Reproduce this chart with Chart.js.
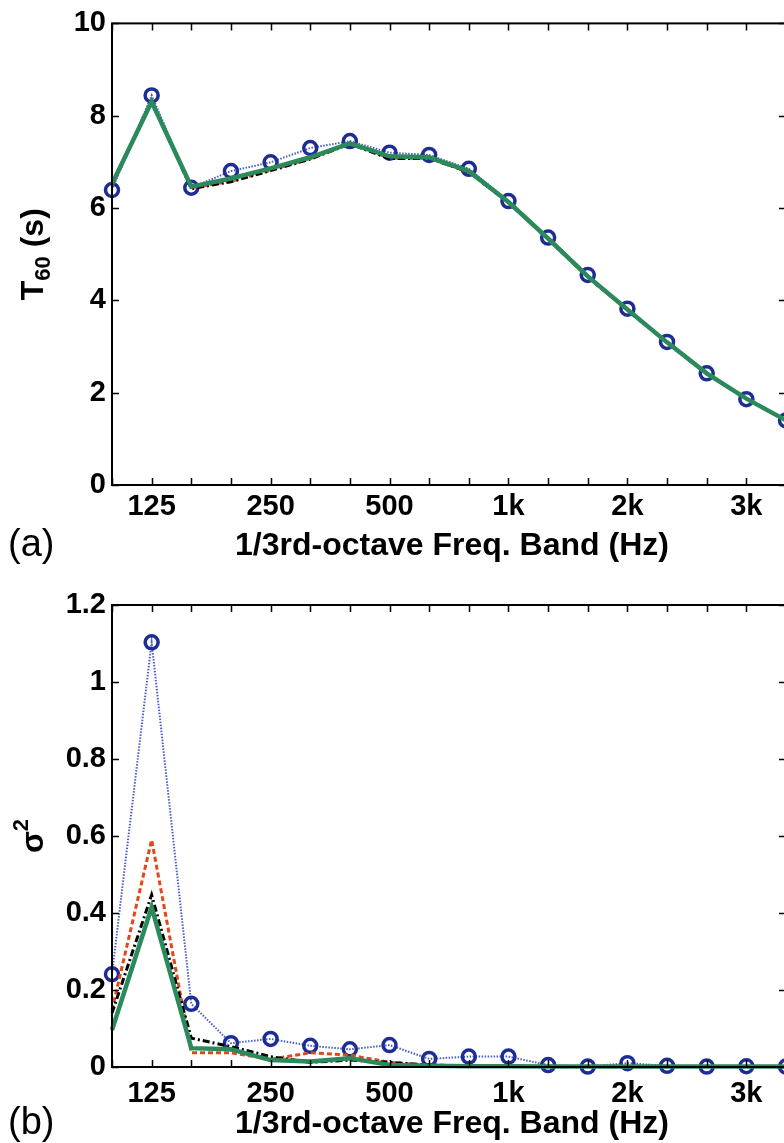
<!DOCTYPE html>
<html>
<head>
<meta charset="utf-8">
<script src="https://cdn.jsdelivr.net/npm/chart.js@4.4.1/dist/chart.umd.min.js"></script>
<style>
  html, body { margin: 0; padding: 0; background: #fff; overflow: hidden; }
  #wrap { position: relative; width: 800px; height: 1143px; overflow: hidden; }
  #c1 { position: absolute; left: 0; top: 0; width: 788px; height: 570px; }
  #c2 { position: absolute; left: 0; top: 570px; width: 788px; height: 573px; }
</style>
</head>
<body>
<div id="wrap">
  <canvas id="c1" width="788" height="570"></canvas>
  <canvas id="c2" width="788" height="573"></canvas>
</div>
<script>
// 1/3rd-octave bands (x categories) and the labels shown under the axis
const bands = ['100','125','160','200','250','315','400','500','630','800','1k','1.25k','1.6k','2k','2.5k','3.15k','4k','5k'];
const xTickLabels = ['','125','','','250','','','500','','','1k','','','2k','','','3k',''];

// (a) T60 in seconds
const t60Blue  = [6.39, 8.44, 6.44, 6.80, 6.99, 7.30, 7.45, 7.20, 7.15, 6.85, 6.15, 5.36, 4.55, 3.82, 3.10, 2.42, 1.86, 1.40];
const t60Red   = [6.50, 8.33, 6.44, 6.58, 6.82, 7.07, 7.40, 7.08, 7.08, 6.78, 6.12, 5.33, 4.51, 3.79, 3.09, 2.41, 1.87, 1.40];
const t60Black = [6.50, 8.32, 6.42, 6.57, 6.81, 7.06, 7.39, 7.07, 7.08, 6.78, 6.12, 5.33, 4.51, 3.79, 3.09, 2.41, 1.87, 1.40];
const t60Green = [6.52, 8.30, 6.46, 6.64, 6.86, 7.10, 7.40, 7.12, 7.10, 6.80, 6.13, 5.34, 4.52, 3.80, 3.09, 2.42, 1.87, 1.40];

// (b) variance
const varBlue  = [0.241, 1.103, 0.164, 0.062, 0.073, 0.055, 0.046, 0.057, 0.021, 0.027, 0.027, 0.005, 0.001, 0.010, 0.003, 0.001, 0.002, 0.001];
const varRed   = [0.148, 0.590, 0.037, 0.037, 0.020, 0.037, 0.031, 0.012, 0.004, 0.003, 0.002, 0.001, 0.001, 0.001, 0.001, 0.001, 0.001, 0.001];
const varBlack = [0.140, 0.447, 0.075, 0.053, 0.027, 0.012, 0.018, 0.012, 0.005, 0.003, 0.002, 0.001, 0.001, 0.001, 0.001, 0.001, 0.001, 0.001];
const varGreen = [0.096, 0.415, 0.049, 0.046, 0.018, 0.014, 0.023, 0.005, 0.003, 0.002, 0.002, 0.001, 0.001, 0.001, 0.001, 0.001, 0.001, 0.001];

const FONT = '"Liberation Sans", Arial, sans-serif';

function makeDatasets(blue, red, black, green) {
  return [
    { data: green, borderColor: '#2b8a5c', borderWidth: 4.5, pointRadius: 0, order: 0, clip: false },
    { data: black, borderColor: '#000', borderWidth: 3, borderDash: [7, 3, 2, 3], pointRadius: 0, order: 1, clip: false },
    { data: red, borderColor: '#e4461c', borderWidth: 3, borderDash: [5, 3], pointRadius: 0, order: 2, clip: false },
    { data: blue, borderColor: '#4a5cc4', borderWidth: 2, borderDash: [1.5, 1.5], pointRadius: 6.5, pointBorderWidth: 3.5,
      pointBorderColor: '#1e2d94', pointBackgroundColor: 'rgba(0,0,0,0)', order: 3, clip: false }
  ];
}

// box, inward ticks, titles
const frame = {
  id: 'frame',
  afterDraw(chart, args, opts) {
    const ctx = chart.ctx, a = chart.chartArea;
    const xs = chart.scales.x, ys = chart.scales.y;
    ctx.save();
    ctx.strokeStyle = '#000';
    ctx.lineWidth = 1.5;
    ctx.beginPath();
    xs.ticks.forEach((t, i) => {
      const px = Math.round(xs.getPixelForTick(i)) + 0.5;
      ctx.moveTo(px, a.bottom); ctx.lineTo(px, a.bottom - 7);
      ctx.moveTo(px, a.top); ctx.lineTo(px, a.top + 7);
    });
    ys.ticks.forEach((t, i) => {
      const py = Math.round(ys.getPixelForTick(i)) + 0.5;
      ctx.moveTo(a.left, py); ctx.lineTo(a.left + 7, py);
      ctx.moveTo(a.right, py); ctx.lineTo(a.right - 7, py);
    });
    ctx.stroke();
    ctx.lineWidth = 2;
    ctx.strokeRect(a.left, a.top, a.right - a.left, a.bottom - a.top);

    ctx.fillStyle = '#000';
    ctx.textBaseline = 'middle';
    ctx.textAlign = 'center';
    ctx.font = 'bold 32px ' + FONT;
    ctx.fillText('1/3rd-octave Freq. Band (Hz)', (a.left + a.right) / 2 + 3, a.bottom + opts.titleDy);
    ctx.textAlign = 'left';
    ctx.font = '38px ' + FONT;
    ctx.fillText(opts.panel, 8, a.bottom + opts.titleDy);

    // rotated y title: main text + sub/superscript
    ctx.translate(32, (a.top + a.bottom) / 2);
    ctx.rotate(-Math.PI / 2);
    const parts = opts.ytitle;
    let w = 0;
    parts.forEach(p => { ctx.font = 'bold ' + p.size + 'px ' + FONT; w += ctx.measureText(p.t).width; });
    let x = -w / 2;
    ctx.textBaseline = 'alphabetic';
    parts.forEach(p => {
      ctx.font = 'bold ' + p.size + 'px ' + FONT;
      ctx.fillText(p.t, x, 11 + p.dy);
      x += ctx.measureText(p.t).width;
    });
    ctx.restore();
  }
};

function makeChart(id, sets, ymax, ystep, yfmt, padTop, xH, xPad, titleDy, panel, ytitle) {
  return new Chart(document.getElementById(id), {
    type: 'line',
    data: { labels: bands, datasets: sets },
    options: {
      responsive: false,
      animation: false,
      layout: { autoPadding: false, padding: { top: padTop, right: 2, left: 0, bottom: 0 } },
      plugins: { legend: { display: false }, tooltip: { enabled: false },
                 frame: { panel: panel, ytitle: ytitle, titleDy: titleDy } },
      elements: { line: { tension: 0 } },
      scales: {
        x: {
          type: 'category', offset: false,
          grid: { display: false, drawTicks: false },
          border: { display: false },
          ticks: { autoSkip: false, maxRotation: 0, padding: xPad, color: '#000',
                   font: { family: FONT, size: 29, weight: 'bold' },
                   callback: (v, i) => xTickLabels[i] },
          afterFit: s => { s.height = xH; s.paddingLeft = 0; s.paddingRight = 0; }
        },
        y: {
          min: 0, max: ymax,
          grid: { display: false, drawTicks: false },
          border: { display: false },
          ticks: { stepSize: ystep, padding: 6, color: '#000', font: { family: FONT, size: 29, weight: 'bold' }, callback: yfmt },
          afterFit: s => { s.width = 112; }
        }
      }
    },
    plugins: [frame]
  });
}

makeChart('c1', makeDatasets(t60Blue, t60Red, t60Black, t60Green), 10, 2, v => v, 20, 85, 5, 61, '(a)',
  [{ t: 'T', size: 32, dy: 0 }, { t: '60', size: 22, dy: 7 }, { t: ' (s)', size: 32, dy: 0 }]);
makeChart('c2', makeDatasets(varBlue, varRed, varBlack, varGreen), 1.2, 0.2, v => String(+v.toFixed(1)), 35, 76, 10, 57, '(b)',
  [{ t: 'σ', size: 32, dy: 0 }, { t: '2', size: 22, dy: -15 }]);
</script>
</body>
</html>
